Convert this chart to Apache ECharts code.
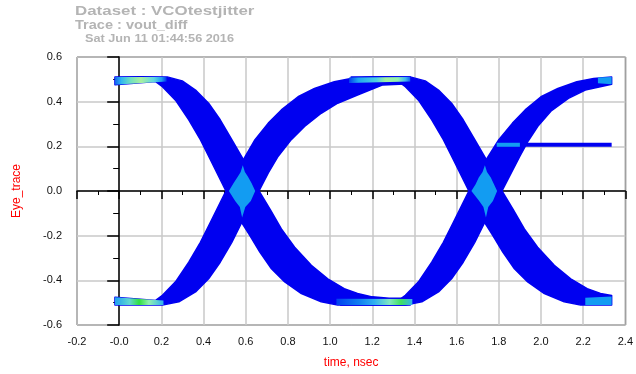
<!DOCTYPE html>
<html>
<head>
<meta charset="utf-8">
<script src="https://cdn.jsdelivr.net/npm/echarts/dist/echarts.min.js"></script>
<style>
html, body { margin: 0; padding: 0; background: #fff; }
#chart { width: 636px; height: 374px; }
</style>
</head>
<body>
<div id="chart"></div>
<script>
// eye diagram (time nsec, volts)
let fall1Upper = [[-0.02,0.51],[0.10,0.512],[0.228,0.511],[0.299,0.493],[0.362,0.452],[0.424,0.393],[0.479,0.319],[0.534,0.230],[0.589,0.141],[0.663,0.0],[0.715,-0.081],[0.769,-0.170],[0.832,-0.252],[0.911,-0.333],[0.989,-0.393],[1.067,-0.437],[1.13,-0.459],[1.20,-0.474],[1.28,-0.48],[1.38,-0.48]];
let fall1Lower = [[1.38,-0.51],[1.036,-0.511],[0.958,-0.496],[0.864,-0.459],[0.785,-0.407],[0.722,-0.348],[0.667,-0.274],[0.620,-0.200],[0.581,-0.141],[0.506,0.0],[0.432,0.141],[0.385,0.230],[0.330,0.319],[0.267,0.407],[0.205,0.467],[0.173,0.49],[0.10,0.485],[-0.02,0.476]];

let rise1Upper = [[-0.02,-0.476],[0.10,-0.485],[0.173,-0.49],[0.205,-0.467],[0.267,-0.407],[0.330,-0.319],[0.385,-0.230],[0.432,-0.141],[0.506,0.0],[0.589,0.141],[0.644,0.230],[0.707,0.304],[0.769,0.363],[0.848,0.422],[0.926,0.459],[1.020,0.489],[1.099,0.504],[1.20,0.51],[1.38,0.51]];
let rise1Lower = [[1.38,0.48],[1.25,0.475],[1.13,0.43],[1.036,0.393],[0.958,0.348],[0.879,0.289],[0.816,0.230],[0.754,0.156],[0.707,0.081],[0.663,0.0],[0.581,-0.141],[0.534,-0.230],[0.479,-0.319],[0.424,-0.393],[0.362,-0.452],[0.283,-0.496],[0.205,-0.511],[-0.02,-0.511]];

let fall2Upper = [[1.10,0.51],[1.25,0.512],[1.38,0.511],[1.451,0.493],[1.514,0.452],[1.576,0.393],[1.631,0.319],[1.686,0.230],[1.741,0.141],[1.815,0.0],[1.867,-0.081],[1.921,-0.170],[1.984,-0.252],[2.063,-0.333],[2.141,-0.393],[2.219,-0.437],[2.282,-0.459],[2.335,-0.468]];
let fall2Lower = [[2.335,-0.51],[2.188,-0.511],[2.110,-0.496],[2.016,-0.459],[1.937,-0.407],[1.874,-0.348],[1.819,-0.274],[1.772,-0.200],[1.733,-0.141],[1.658,0.0],[1.584,0.141],[1.537,0.230],[1.482,0.319],[1.419,0.407],[1.357,0.467],[1.325,0.49],[1.25,0.485],[1.10,0.48]];

let rise2Upper = [[1.05,-0.48],[1.25,-0.485],[1.325,-0.49],[1.357,-0.467],[1.419,-0.407],[1.482,-0.319],[1.537,-0.230],[1.584,-0.141],[1.658,0.0],[1.741,0.141],[1.80,0.230],[1.865,0.304],[1.925,0.363],[2.0,0.422],[2.08,0.459],[2.17,0.489],[2.25,0.504],[2.335,0.51]];
let rise2Lower = [[2.335,0.478],[2.21,0.452],[2.13,0.415],[2.05,0.36],[1.985,0.29],[1.94,0.225],[1.90,0.156],[1.859,0.081],[1.815,0.0],[1.733,-0.141],[1.686,-0.230],[1.631,-0.319],[1.576,-0.393],[1.514,-0.452],[1.435,-0.496],[1.357,-0.511],[1.05,-0.511]];

// dense (hot) spots on the rails and at the crossings
let flatTopLeft = [[-0.02,0.51],[0.225,0.51],[0.225,0.49],[-0.02,0.476]];
let flatBotLeft = [[-0.02,-0.476],[0.21,-0.49],[0.21,-0.511],[-0.02,-0.511]];
let flatTopMid = [[1.09,0.508],[1.38,0.511],[1.38,0.49],[1.09,0.484]];
let flatBotMid = [[1.03,-0.482],[1.39,-0.484],[1.39,-0.511],[1.03,-0.511]];
let capTopRight = [[2.27,0.508],[2.335,0.51],[2.335,0.478],[2.27,0.482]];
let capBotRight = [[2.21,-0.478],[2.335,-0.472],[2.335,-0.51],[2.21,-0.511]];
let cross1 = [[0.586,0.115],[0.596,0.085],[0.610,0.065],[0.628,0.035],[0.645,0.0],[0.624,-0.045],[0.598,-0.072],[0.583,-0.119],[0.572,-0.072],[0.550,-0.045],[0.520,0.0],[0.542,0.035],[0.563,0.065],[0.576,0.085]];
let cross2 = [[1.734,0.115],[1.744,0.085],[1.762,0.06],[1.777,0.03],[1.792,0.0],[1.772,-0.045],[1.750,-0.072],[1.739,-0.119],[1.727,-0.072],[1.707,-0.045],[1.670,0.0],[1.690,0.03],[1.705,0.06],[1.723,0.085]];

// stuck trace at the right
let stuckLine = [[1.79,0.207],[2.335,0.207]];
let stuckHot = [[1.79,0.207],[1.90,0.207]];

let blue = '#0000f0';
let cyan = '#129cf2';

function grad(stops) {
    return new echarts.graphic.LinearGradient(0, 0, 1, 0, stops.map(function (s) {
        return { offset: s[0], color: s[1] };
    }));
}

let shapes = [
    { pts: fall1Upper.concat(fall1Lower), fill: blue, band: true },
    { pts: rise1Upper.concat(rise1Lower), fill: blue, band: true },
    { pts: fall2Upper.concat(fall2Lower), fill: blue, band: true },
    { pts: rise2Upper.concat(rise2Lower), fill: blue, band: true },
    { pts: flatTopLeft, fill: grad([[0,'#1060f0'],[0.12,'#30b8f0'],[0.3,'#70e0c0'],[0.5,'#a8f0a0'],[0.75,'#60d8e0'],[0.9,'#20a0f0'],[1,'#0030f0']]) },
    { pts: flatBotLeft, fill: grad([[0,'#20a0f0'],[0.3,'#60d8d0'],[0.5,'#30e040'],[0.7,'#90f0b0'],[1,'#30b0f0']]) },
    { pts: flatTopMid, fill: grad([[0,'#0040f0'],[0.15,'#20a8f0'],[0.45,'#50d0e0'],[0.6,'#a0f0a0'],[0.8,'#90f0b0'],[0.92,'#40b8f0'],[1,'#1060f0']]) },
    { pts: flatBotMid, fill: grad([[0,'#0040f0'],[0.3,'#1080f0'],[0.5,'#30b0f0'],[0.7,'#80e8c0'],[0.85,'#40e060'],[1,'#30b0f0']]) },
    { pts: capTopRight, fill: cyan },
    { pts: capBotRight, fill: cyan },
    { pts: cross1, fill: cyan },
    { pts: cross2, fill: cyan }
];

let chart = echarts.init(document.getElementById('chart'));

let option = {
    animation: false,
    textStyle: { fontFamily: 'Liberation Sans, Arial, sans-serif' },
    graphic: [
        { type: 'text', left: 75, top: 5, scaleX: 1.3, style: { text: 'Dataset : VCOtestjitter', fill: '#b4b4b4', font: 'bold 13px Liberation Sans' } },
        { type: 'text', left: 75, top: 19, scaleX: 1.12, style: { text: 'Trace : vout_diff', fill: '#b4b4b4', font: 'bold 13px Liberation Sans' } },
        { type: 'text', left: 85, top: 34, scaleX: 1.27, style: { text: 'Sat Jun 11 01:44:56 2016', fill: '#b4b4b4', font: 'bold 10px Liberation Sans' } }
    ],
    grid: {
        left: 77, right: 7, top: 57, bottom: 47,
        show: true, borderColor: '#000', borderWidth: 1
    },
    xAxis: {
        type: 'value',
        min: -0.2, max: 2.4, interval: 0.2,
        name: 'time, nsec',
        nameLocation: 'middle',
        nameGap: 32,
        nameTextStyle: { color: '#ff0000', fontSize: 12 },
        axisLine: { lineStyle: { color: '#000', width: 1.5 } },
        axisTick: { length: 8, lineStyle: { color: '#000', width: 1.5 } },
        minorTick: { show: true, splitNumber: 2, length: 4, lineStyle: { color: '#000' } },
        axisLabel: {
            color: '#111', fontSize: 11, margin: 11,
            formatter: function (v) { return Math.abs(v) < 1e-9 ? '-0.0' : v.toFixed(1); }
        },
        splitLine: { lineStyle: { color: '#c8c8c8', width: 1.5 } }
    },
    yAxis: {
        type: 'value',
        min: -0.6, max: 0.6, interval: 0.2,
        name: 'Eye_trace',
        nameLocation: 'middle',
        nameGap: 54,
        nameTextStyle: { color: '#ff0000', fontSize: 12 },
        axisLine: { lineStyle: { color: '#000', width: 1.5 } },
        axisTick: { length: 12, lineStyle: { color: '#000', width: 1.5 } },
        minorTick: { show: true, splitNumber: 2, length: 6, lineStyle: { color: '#000' } },
        axisLabel: {
            color: '#111', fontSize: 11, margin: 15,
            formatter: function (v) { return Math.abs(v) < 1e-9 ? '0.0' : v.toFixed(1); }
        },
        splitLine: { lineStyle: { color: '#c8c8c8', width: 1.5 } }
    },
    series: [
        {
            type: 'custom',
            clip: true,
            data: shapes.map(function (s, i) { return [i]; }),
            renderItem: function (params, api) {
                let s = shapes[params.dataIndex];
                return {
                    type: 'polygon',
                    shape: { points: s.pts.map(function (p) { return api.coord(p); }) },
                    style: s.band
                        ? { fill: s.fill, stroke: s.fill, lineWidth: 1.5, lineJoin: 'round' }
                        : { fill: s.fill }
                };
            }
        },
        {
            type: 'line',
            data: stuckLine,
            symbol: 'none',
            lineStyle: { color: blue, width: 4 }
        },
        {
            type: 'line',
            data: stuckHot,
            symbol: 'none',
            lineStyle: { color: cyan, width: 4 }
        }
    ]
};

chart.setOption(option);
</script>
</body>
</html>
